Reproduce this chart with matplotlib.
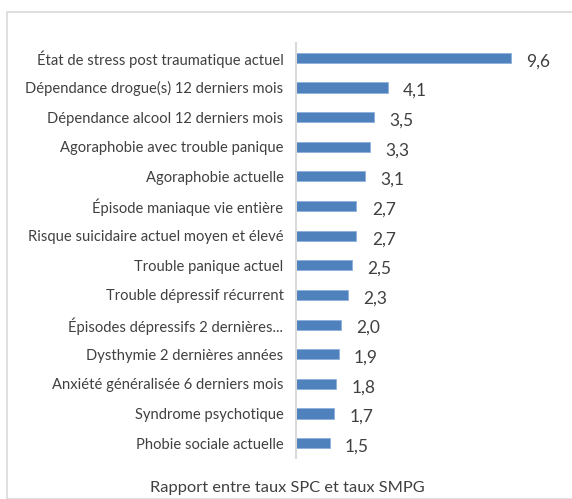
import matplotlib.pyplot as plt
from matplotlib.patches import Rectangle

categories = [
    "État de stress post traumatique actuel",
    "Dépendance drogue(s) 12 derniers mois",
    "Dépendance alcool 12 derniers mois",
    "Agoraphobie avec trouble panique",
    "Agoraphobie actuelle",
    "Épisode maniaque vie entière",
    "Risque suicidaire actuel moyen et élevé",
    "Trouble panique actuel",
    "Trouble dépressif récurrent",
    "Épisodes dépressifs 2 dernières...",
    "Dysthymie 2 dernières années",
    "Anxiété généralisée 6 derniers mois",
    "Syndrome psychotique",
    "Phobie sociale actuelle",
]
values = [9.6, 4.1, 3.5, 3.3, 3.1, 2.7, 2.7, 2.5, 2.3, 2.0, 1.9, 1.8, 1.7, 1.5]
title = "Rapport entre taux SPC et taux SMPG"

plt.rcParams["font.family"] = ["Lato", "DejaVu Sans"]

W, H = 572, 499
fig = plt.figure(figsize=(W / 100, H / 100), dpi=100)

# light frame around the chart
fig.patches.append(Rectangle((7 / W, 0), 1, 1 - 12 / H, transform=fig.transFigure,
                             fill=False, edgecolor="#d9d9d9", linewidth=1.2))

px_per_unit = 22.4
ax = fig.add_axes([296 / W, 41 / H, 264 / W, 415 / H])
ypos = list(range(len(categories)))
ax.barh(ypos, values, height=0.34, color="#4f81bd", edgecolor="#8eb0dc", linewidth=0.6)
ax.set_xlim(0, 264 / px_per_unit)
ax.set_ylim(len(categories) - 0.5, -0.5)

ax.set_yticks(ypos)
ax.set_yticklabels(categories, fontsize=10.6, color="#404040")
ax.tick_params(axis="y", length=0, pad=9)
ax.set_xticks([])
for side in ["top", "right", "bottom"]:
    ax.spines[side].set_visible(False)
ax.spines["left"].set_color("#d9d9d9")
ax.spines["left"].set_linewidth(1.5)

for y, v in zip(ypos, values):
    ax.annotate(f"{v:.1f}".replace(".", ","), (v, y), xytext=(11, -2.5),
                textcoords="offset points", ha="left", va="center",
                fontsize=12.5, color="#404040")

fig.text(287 / W, 1 - 488 / H, title, ha="center", va="center",
         fontsize=11.8, color="#404040")

fig.savefig("out.png", dpi=100)
